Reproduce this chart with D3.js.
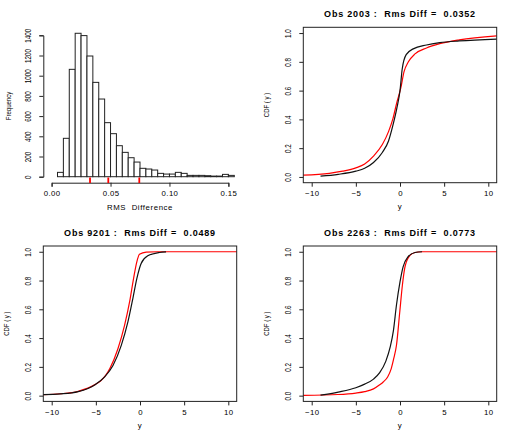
<!DOCTYPE html>
<html>
<head>
<meta charset="utf-8">
<script src="https://d3js.org/d3.v7.min.js"></script>
<style>
  body { margin: 0; background: #fff; }
  text { font-family: "Liberation Sans", Arial, sans-serif; fill: #000; white-space: pre; }
  .title { font-weight: bold; font-size: 9px; letter-spacing: 0.8px; }
  .xaxis .tick text { font-size: 7.8px; letter-spacing: 0.4px; }
  .yaxis .tick text { font-size: 6.3px; }
  .lab { font-size: 7.8px; letter-spacing: 0.6px; }
  .ylab { font-size: 6px; }
</style>
</head>
<body>
<div id="chart"></div>
<script>
// Histogram of RMS differences
const binStarts = [0.005, 0.010, 0.015, 0.020, 0.025, 0.030, 0.035, 0.040, 0.045, 0.050,
                   0.055, 0.060, 0.065, 0.070, 0.075, 0.080, 0.085, 0.090, 0.095, 0.100,
                   0.105, 0.110, 0.115, 0.120, 0.125, 0.130, 0.135, 0.140, 0.145, 0.150];
const binWidth = 0.005;
const counts = [43, 380, 1063, 1420, 1397, 1195, 934, 769, 535, 426,
                307, 241, 188, 145, 83, 76, 66, 33, 26, 26,
                43, 33, 13, 13, 13, 10, 6, 6, 23, 13];
const rugValues = [0.0326, 0.0481, 0.0744];
const histXTicks = [0, 0.05, 0.1, 0.15];
const histYTicks = [0, 200, 400, 600, 800, 1000, 1200, 1400];

// CDF panels: [y, CDF(y)]
const obs2003Black = [[-9, 0.005], [-7, 0.018], [-5, 0.04], [-4, 0.06], [-3, 0.1], [-2, 0.17], [-1.3, 0.25],
  [-0.8, 0.36], [-0.35, 0.48], [0, 0.6], [0.25, 0.75], [0.7, 0.85], [1.5, 0.89], [3, 0.917],
  [4.5, 0.933], [6.7, 0.945], [10.95, 0.958]];
const obs2003Red = [[-10.95, 0.012], [-8, 0.025], [-6.5, 0.04], [-5, 0.063], [-4, 0.09], [-3, 0.145],
  [-2, 0.225], [-1.3, 0.315], [-0.8, 0.405], [-0.35, 0.52], [0.1, 0.62], [0.45, 0.73], [0.95, 0.8],
  [1.7, 0.855], [3, 0.896], [4.5, 0.926], [6.7, 0.953], [10.95, 0.981]];
const obs9201Black = [[-10.95, 0.007], [-9, 0.012], [-7, 0.028], [-5, 0.08], [-4, 0.13], [-3.06, 0.209],
  [-2.12, 0.349], [-1.37, 0.512], [-0.81, 0.675], [-0.36, 0.814], [0.13, 0.919], [0.88, 0.972],
  [2.2, 0.995], [2.95, 0.999]];
const obs9201Red = [[-10.95, 0.007], [-9, 0.013], [-7, 0.03], [-5, 0.08], [-4.5, 0.1], [-3.4, 0.19],
  [-2.5, 0.326], [-1.75, 0.488], [-1.18, 0.651], [-0.73, 0.814], [-0.36, 0.93], [-0.06, 0.982],
  [0.7, 0.998], [2, 1.0], [10.95, 1.0]];
const obs2263Black = [[-9, 0.003], [-7, 0.025], [-5, 0.055], [-4, 0.08], [-3, 0.115], [-2.3, 0.16],
  [-1.6, 0.24], [-1.1, 0.34], [-0.75, 0.45], [-0.4, 0.63], [0, 0.79], [0.35, 0.895], [0.9, 0.965],
  [1.7, 0.995], [2.5, 1.0]];
const obs2263Red = [[-10.95, 0.002], [-7, 0.008], [-5, 0.018], [-4, 0.028], [-3, 0.047], [-2.3, 0.075],
  [-1.9, 0.095], [-1.4, 0.13], [-1, 0.186], [-0.7, 0.26], [-0.4, 0.35], [-0.03, 0.58], [0.27, 0.767],
  [0.53, 0.884], [1.0, 0.965], [1.7, 0.995], [2.5, 1.0], [10.95, 1.0]];
const cdfXTicks = [-10, -5, 0, 5, 10];
const cdfYTicks = [0, 0.2, 0.4, 0.6, 0.8, 1.0];

const width = 519, height = 436;
const svg = d3.select("#chart").append("svg")
  .attr("width", width)
  .attr("height", height);

// rotate y tick labels like R does (parallel to the axis), glyphs a bit stretched
function rotateYLabels(g) {
  g.attr("class", "yaxis")
    .selectAll(".tick text")
    .attr("x", 0).attr("dy", 0)
    .attr("text-anchor", "middle")
    .attr("transform", "translate(-12,0) rotate(-90) scale(1,1.3)");
}

// ---- histogram (top left) ----
const xh = d3.scaleLinear().domain([0, 0.15]).range([51.6, 228.4]);
const yh = d3.scaleLinear().domain([0, 1400]).range([176.7, 35.3]);

svg.append("g")
  .selectAll("rect")
  .data(counts)
  .join("rect")
  .attr("x", (d, i) => xh(binStarts[i]))
  .attr("y", d => yh(d))
  .attr("width", xh(binWidth) - xh(0))
  .attr("height", d => yh(0) - yh(d))
  .attr("fill", "white")
  .attr("stroke", "#222")
  .attr("stroke-width", 1);

svg.append("g")
  .attr("class", "xaxis")
  .attr("transform", "translate(0,182.7)")
  .call(d3.axisBottom(xh).tickValues(histXTicks).tickFormat(d3.format(".2f")).tickSize(4).tickPadding(4))
  .call(g => g.selectAll("path, line").attr("stroke", "#222"));

svg.append("g")
  .attr("transform", "translate(43.3,0)")
  .call(d3.axisLeft(yh).tickValues(histYTicks).tickFormat(d3.format("d")).tickSize(4))
  .call(g => g.selectAll("path, line").attr("stroke", "#222"))
  .call(rotateYLabels);

svg.append("g")
  .selectAll("line")
  .data(rugValues)
  .join("line")
  .attr("x1", d => xh(d)).attr("x2", d => xh(d))
  .attr("y1", 177.5).attr("y2", 183)
  .attr("stroke", "red")
  .attr("stroke-width", 1.8);

svg.append("text").attr("class", "lab")
  .attr("x", 140).attr("y", 210).attr("text-anchor", "middle")
  .text("RMS  Difference");
svg.append("text").attr("class", "ylab")
  .attr("transform", "translate(10.5,106) rotate(-90) scale(1,1.3)").attr("text-anchor", "middle")
  .text("Frequency");

// ---- CDF panels ----
function cdfPanel(left, top, title, black, red) {
  const w = 193.4, h = 155.4;
  const x = d3.scaleLinear().domain([-10.95, 10.95]).range([left, left + w]);
  const y = d3.scaleLinear().domain([-0.04, 1.04]).range([top + h, top]);
  const line = d3.line().x(d => x(d[0])).y(d => y(d[1])).curve(d3.curveMonotoneX);

  svg.append("path").datum(red)
    .attr("d", line).attr("fill", "none")
    .attr("stroke", "red").attr("stroke-width", 1.2);
  svg.append("path").datum(black)
    .attr("d", line).attr("fill", "none")
    .attr("stroke", "#111").attr("stroke-width", 1.2);

  svg.append("rect")
    .attr("x", left).attr("y", top).attr("width", w).attr("height", h)
    .attr("fill", "none").attr("stroke", "#222");

  svg.append("g")
    .attr("class", "xaxis")
    .attr("transform", `translate(0,${top + h})`)
    .call(d3.axisBottom(x).tickValues(cdfXTicks).tickFormat(d => d < 0 ? "\u2212" + Math.abs(d) : d).tickSize(4).tickPadding(4))
    .call(g => g.select(".domain").remove())
    .call(g => g.selectAll("line").attr("stroke", "#222"));

  svg.append("g")
    .attr("transform", `translate(${left},0)`)
    .call(d3.axisLeft(y).tickValues(cdfYTicks).tickFormat(d3.format(".1f")).tickSize(4))
    .call(g => g.select(".domain").remove())
    .call(g => g.selectAll("line").attr("stroke", "#222"))
    .call(rotateYLabels);

  svg.append("text").attr("class", "title")
    .attr("x", left + w / 2).attr("y", top - 10).attr("text-anchor", "middle")
    .text(title);
  svg.append("text").attr("class", "lab")
    .attr("x", left + w / 2).attr("y", top + h + 26.5).attr("text-anchor", "middle")
    .text("y");
  svg.append("text").attr("class", "ylab")
    .attr("transform", `translate(${left - 34},${top + h / 2}) rotate(-90) scale(1,1.3)`).attr("text-anchor", "middle")
    .text("CDF ( y )");
}

cdfPanel(303.3, 27.3, "Obs 2003 :  Rms Diff =  0.0352", obs2003Black, obs2003Red);
cdfPanel(43.3, 246, "Obs 9201 :  Rms Diff =  0.0489", obs9201Black, obs9201Red);
cdfPanel(303.3, 246, "Obs 2263 :  Rms Diff =  0.0773", obs2263Black, obs2263Red);
</script>
</body>
</html>
